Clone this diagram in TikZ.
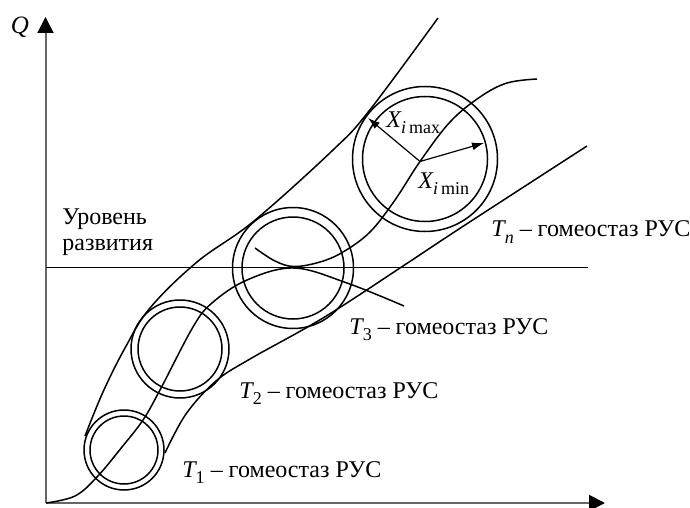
\documentclass[tikz,border=0pt]{standalone}
\usepackage{fontspec}
\setmainfont{Liberation Serif}
\usetikzlibrary{arrows.meta}
\newcommand\mysub[1]{\raisebox{-0.28em}{\fontsize{9}{10}\selectfont #1}}
\begin{document}
\begin{tikzpicture}[x=0.5pt,y=-0.5pt,
  curve/.style={line width=0.75pt, line join=round},
  ring/.style={line width=0.75pt},
  axis/.style={line width=1pt, draw=black!60, -{Triangle[length=8pt,width=8pt,color=black]}},
  radarrow/.style={line width=0.6pt, -{Latex[length=6pt,width=4pt]}},
  lbl/.style={font=\fontsize{12}{14}\selectfont, inner sep=0pt, anchor=base west}]
\useasboundingbox (0,0) rectangle (690,508);
% axes
\coordinate (O) at (45.5,503);
\coordinate (Ytip) at (45.5,17);
\coordinate (Xtip) at (605,503);
\draw[axis] (O) -- (Ytip);
\draw[axis] (O) -- (Xtip);
\node[font=\fontsize{12.5}{14}\selectfont, inner sep=0pt] (q) at (20,27) {\itshape Q};
% level line
\coordinate (L1) at (45.5,267.5);
\coordinate (L2) at (588,267.5);
\draw[line width=0.6pt] (L1) -- (L2);
\node[lbl, anchor=west, align=left, font=\fontsize{12}{13.2}\selectfont] (lev) at (62,232) {Уровень\\развития};
% circles
\coordinate (c1) at (124,450);
\coordinate (c2) at (180,349);
\coordinate (c3) at (293,268);
\coordinate (cn) at (425,159);
\draw[ring] (c1) circle [radius=20pt];
\draw[ring] (c1) circle [radius=17pt];
\draw[ring] (c2) circle [radius=24.5pt];
\draw[ring] (c2) circle [radius=21pt];
\draw[ring] (c3) circle [radius=30.25pt];
\draw[ring] (c3) circle [radius=25.5pt];
\draw[ring] (cn) circle [radius=36.25pt];
\draw[ring] (cn) circle [radius=31.25pt];
% upper boundary
\draw[curve] plot[smooth, tension=0.6] coordinates {(85,436) (103,392) (125,348) (150,308) (197,262) (254,221) (333,150) (369,111) (438,18)};
% lower boundary
\draw[curve] plot[smooth, tension=0.6] coordinates {(165,453) (186,414) (216,381) (250,359) (323,318) (400,268) (462,227) (587,146)};
% middle U curve
\draw[curve] plot[smooth, tension=0.6] coordinates {(255,248) (275,261) (294,266.5) (320,262) (343,252) (370,232) (395,200) (420,161.5) (450,122) (480,97) (507,83) (537,79)};
% arch curve
\draw[curve] plot[smooth, tension=0.6] coordinates {(46,503) (75,496) (97,477) (122,447) (143,420) (160,390) (193,327) (212,303) (247,280) (294,268) (347,283) (404,306)};
% radius arrows
\coordinate (o) at (420,161.5);
\coordinate (pmax) at (368,118);
\coordinate (pmin) at (484,143);
\draw[radarrow] (o) -- (pmax);
\draw[radarrow] (o) -- (pmin);
\node[lbl] (xmax) at (386,127) {\itshape X\mysub{\itshape i\,\upshape max}};
\node[lbl] (xmin) at (418,188) {\itshape X\mysub{\itshape i\,\upshape min}};
% labels
\node[lbl] (tn) at (491,236.5) {{\itshape T}\mysub{\itshape n} – гомеостаз РУС};
\node[lbl] (t3) at (349,334) {{\itshape T}\mysub{3} – гомеостаз РУС};
\node[lbl] (t2) at (239,398) {{\itshape T}\mysub{2} – гомеостаз РУС};
\node[lbl] (t1) at (182,477) {{\itshape T}\mysub{1} – гомеостаз РУС};
\end{tikzpicture}
\end{document}
